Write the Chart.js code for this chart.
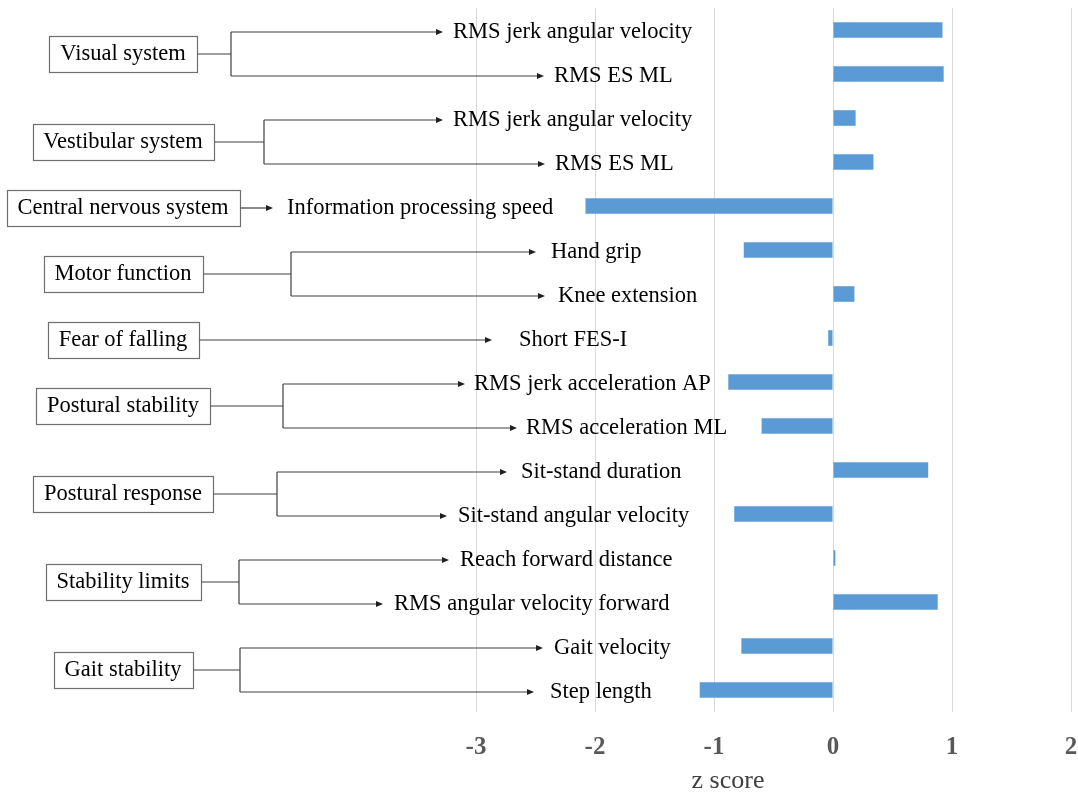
<!DOCTYPE html>
<html>
<head>
<meta charset="utf-8">
<title>z score by domain</title>
<script src="https://cdn.jsdelivr.net/npm/chart.js@4.4.1/dist/chart.umd.min.js"></script>
<style>
    html, body { margin: 0; padding: 0; background: #fff; }
    #wrap { width: 1078px; height: 792px; position: relative; }
</style>
</head>
<body>
<div id="wrap"><canvas id="zscore-chart"></canvas></div>
<script>
// Measures, top to bottom, and their z scores.
const measures = [
    "RMS jerk angular velocity",
    "RMS ES ML",
    "RMS jerk angular velocity",
    "RMS ES ML",
    "Information processing speed",
    "Hand grip",
    "Knee extension",
    "Short FES-I",
    "RMS jerk acceleration AP",
    "RMS acceleration ML",
    "Sit-stand duration",
    "Sit-stand angular velocity",
    "Reach forward distance",
    "RMS angular velocity forward",
    "Gait velocity",
    "Step length",
];
const zScores = [0.92, 0.93, 0.19, 0.34, -2.08, -0.75, 0.18, -0.04,
                 -0.88, -0.60, 0.80, -0.83, 0.02, 0.88, -0.77, -1.12];

// Domains and the measure rows each one groups.
const domains = [
    "Visual system", "Vestibular system", "Central nervous system",
    "Motor function", "Fear of falling", "Postural stability",
    "Postural response", "Stability limits", "Gait stability",
];
const domainRows = [[0, 1], [2, 3], [4], [5, 6], [7], [8, 9], [10, 11], [12, 13], [14, 15]];

const xTicks = [-3, -2, -1, 0, 1, 2];
const axisTitle = "z score";

// Placement of the left-hand tree (canvas px).
const labelLeft = [453, 554, 453, 555, 287, 551, 558, 519, 474, 526, 521, 458, 460, 394, 554, 550];
const arrowTip  = [443, 544, 443, 545, 273, 536, 545, 492, 465, 517, 507, 447, 449, 383, 543, 534];
const bracketX  = [231, 264, null, 291, null, 283, 277, 239, 240];
const BOX_CX = 123;
const BOX_H = 36;
const BOX_PAD = 11;
const ROW_SHIFT = 2;
const X_AXIS_HEIGHT = 80;

const SERIF = "'Liberation Serif', 'Times New Roman', serif";

function arrowTo(ctx, x0, x1, y) {
    ctx.beginPath();
    ctx.moveTo(x0, y);
    ctx.lineTo(x1 - 5, y);
    ctx.stroke();
    ctx.beginPath();
    ctx.moveTo(x1, y);
    ctx.lineTo(x1 - 7, y - 3);
    ctx.lineTo(x1 - 7, y + 3);
    ctx.closePath();
    ctx.fill();
}

// Draws domain boxes, brackets, arrows and measure names left of the plot.
const domainTree = {
    id: "domainTree",
    afterDatasetsDraw(chart) {
        const ctx = chart.ctx;
        const yScale = chart.scales.y;
        const rowY = i => yScale.getPixelForValue(i) + ROW_SHIFT;

        ctx.save();
        ctx.font = `22.5px ${SERIF}`;
        ctx.textBaseline = "middle";
        ctx.fillStyle = "#000";
        measures.forEach((m, i) => {
            ctx.textAlign = "left";
            ctx.fillText(m, labelLeft[i], rowY(i));
        });

        ctx.lineWidth = 1.2;

        domains.forEach((name, g) => {
            const rows = domainRows[g];
            const ys = rows.map(rowY);
            const cy = ys.reduce((a, b) => a + b, 0) / ys.length;

            ctx.font = `22.5px ${SERIF}`;
            const w = Math.round(ctx.measureText(name).width + BOX_PAD * 2);
            const bx = Math.round(BOX_CX - w / 2) + 0.5;
            const by = Math.round(cy - BOX_H / 2) + 0.5;

            ctx.strokeStyle = "#6f6f6f";
            ctx.strokeRect(bx, by, w, BOX_H);
            ctx.fillStyle = "#000";
            ctx.textAlign = "center";
            ctx.fillText(name, BOX_CX, cy);

            ctx.strokeStyle = "#404040";
            ctx.fillStyle = "#202020";
            const right = bx + w;
            if (rows.length === 1) {
                arrowTo(ctx, right, arrowTip[rows[0]], ys[0]);
                return;
            }
            const bX = bracketX[g];
            ctx.beginPath();
            ctx.moveTo(right, cy);
            ctx.lineTo(bX, cy);
            ctx.moveTo(bX, ys[0]);
            ctx.lineTo(bX, ys[ys.length - 1]);
            ctx.stroke();
            rows.forEach((r, k) => arrowTo(ctx, bX, arrowTip[r], ys[k]));
        });

        // axis title sits under the tick labels
        ctx.font = `26px ${SERIF}`;
        ctx.fillStyle = "#404040";
        ctx.textAlign = "center";
        ctx.textBaseline = "alphabetic";
        ctx.fillText(axisTitle, 728, 788);
        ctx.restore();
    },
};

function initZScoreChart() {
    const canvas = document.getElementById("zscore-chart");
    Chart.defaults.font.family = SERIF;

    new Chart(canvas, {
        type: "bar",
        data: {
            labels: measures,
            datasets: [{
                data: zScores,
                backgroundColor: "#5b9bd5",
                borderWidth: 0,
                categoryPercentage: 1,
                barPercentage: 0.355,
            }],
        },
        options: {
            indexAxis: "y",
            responsive: true,
            maintainAspectRatio: false,
            animation: false,
            layout: { padding: { left: 476, right: 7, top: 8, bottom: 0 } },
            plugins: {
                legend: { display: false },
                tooltip: { enabled: false },
            },
            scales: {
                x: {
                    min: xTicks[0],
                    max: xTicks[xTicks.length - 1],
                    afterBuildTicks: s => { s.ticks = xTicks.map(v => ({ value: v })); },
                    // fixed axis band; tick padding should not widen the side margins
                    afterFit: s => {
                        s.height = X_AXIS_HEIGHT;
                        s.paddingLeft = 0;
                        s.paddingRight = 0;
                    },
                    grid: { color: "#d9d9d9", lineWidth: 1, drawTicks: false },
                    border: { display: false },
                    ticks: {
                        padding: 21,
                        color: "#595959",
                        font: { size: 25, weight: "bold", family: SERIF },
                    },
                },
                y: { display: false },
            },
        },
        plugins: [domainTree],
    });
}

if (document.readyState === "loading") {
    document.addEventListener("DOMContentLoaded", initZScoreChart);
} else {
    initZScoreChart();
}
</script>
</body>
</html>
